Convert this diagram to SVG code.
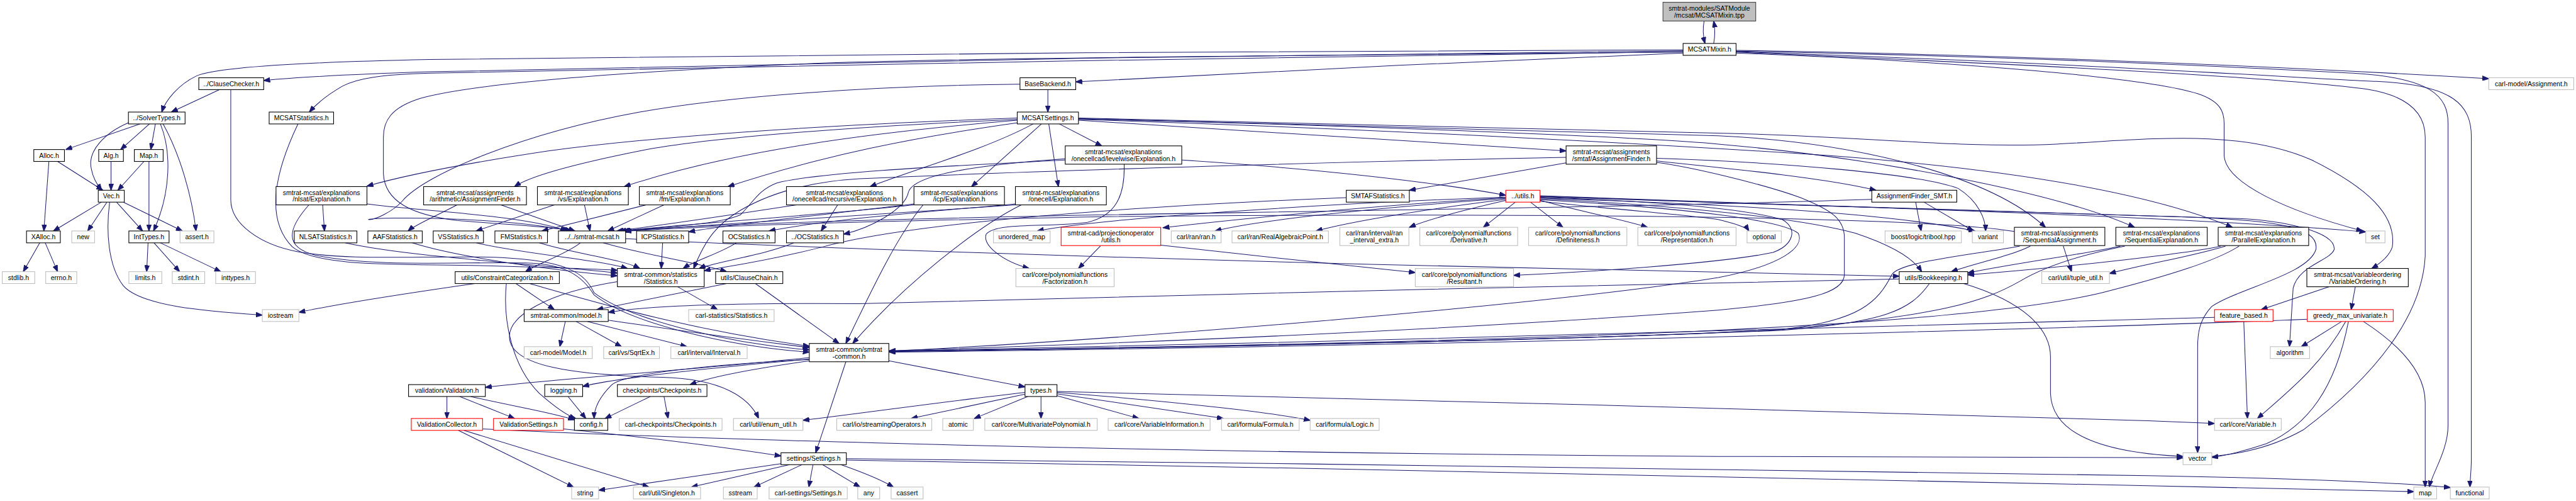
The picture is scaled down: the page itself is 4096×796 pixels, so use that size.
<svg xmlns="http://www.w3.org/2000/svg" width="4096" height="796" viewBox="0 0 4096 796">
<defs>
<style>
.node rect{fill:#fff;stroke:#000;stroke-width:1.5}
.ext rect{stroke:#bfbfbf}
.trunc rect{stroke:#ff0000}
.root rect{fill:#bfbfbf;stroke:#404040}
.node text{font-family:"Liberation Sans",Arial,Helvetica,sans-serif;font-size:14.5px;fill:#000;text-anchor:middle}
#edges path{fill:none;stroke:#191970;stroke-width:1.4;marker-end:url(#ah)}
</style>
<marker id="ah" markerUnits="userSpaceOnUse" markerWidth="15" markerHeight="11" refX="14" refY="5.5" orient="auto"><path d="M0,0 L15,5.5 L0,11 z" fill="#191970" stroke="#191970" stroke-width="1"/></marker>
</defs>
<rect x="0" y="0" width="4096" height="796" fill="#fff"/>
<g transform="scale(0.72663)">
<g id="edges">
<path d="M3729,46 C3726,62 3727,80 3731,95"/>
<path d="M3750,95 C3753,80 3753,62 3750,46"/>
<path d="M3683,111 C3000,115 1500,140 940,157 C750,163 640,170 577,176"/>
<path d="M3683,109 C3000,110 1500,120 940,130 C700,135 480,145 430,166 C390,185 362,220 354,245"/>
<path d="M3683,113 C3000,118 1600,148 940,160 C830,163 780,172 750,188 C715,208 690,230 677,245"/>
<path d="M3683,116 C3300,130 2700,160 2354,179"/>
<path d="M3683,114 C3000,120 2200,125 1800,138 C1400,155 1050,180 920,215 C855,235 839,265 839,300 L839,380 C842,440 900,470 1000,482 C1120,492 1215,496 1250,505"/>
<path d="M3799,110 C4300,118 4900,140 5446,172"/>
<path d="M3799,112 C4500,125 4950,150 5150,160 C5320,170 5357,210 5357,270 L5357,930 C5357,985 5322,1035 5316,1065"/>
<path d="M3799,113 C4600,140 5050,172 5200,178 C5370,185 5408,230 5408,300 L5408,1000 C5408,1030 5405,1048 5405,1065"/>
<path d="M3799,114 C4400,140 4950,165 5180,195 C5285,212 5307,260 5307,300 L5307,560 C5300,690 5200,820 5040,940 C4960,985 4880,998 4777,1002"/>
<path d="M3799,116 C4300,135 4700,170 4810,205 C4860,222 4867,245 4867,270 L4867,340 C4870,400 5000,460 5170,505"/>
<path d="M480,196 L375,245"/>
<path d="M505,196 L505,437 C505,490 570,535 650,550 C760,570 900,560 1050,562 C1250,565 1280,600 1300,640 C1380,700 1600,752 1771,765"/>
<path d="M652,271 C600,380 580,480 640,540 C700,588 900,575 1100,582 C1250,586 1310,588 1351,591"/>
<path d="M676,448 C630,500 620,540 690,558 C820,585 1000,572 1150,575 C1240,577 1275,605 1300,645 C1380,708 1600,758 1771,770"/>
<path d="M755,531 C850,552 1000,565 1150,578 C1260,588 1320,593 1351,597"/>
<path d="M902,531 C1000,562 1200,590 1351,603"/>
<path d="M1042,531 C1150,556 1300,566 1373,587"/>
<path d="M1180,531 C1260,556 1360,566 1400,587"/>
<path d="M1450,531 L1447,587"/>
<path d="M1611,531 C1580,552 1520,570 1495,587"/>
<path d="M1737,531 C1680,556 1560,574 1530,587"/>
<path d="M2946,432 C2500,450 2000,485 1800,540 C1660,575 1580,584 1541,592"/>
<path d="M306,271 L144,327"/>
<path d="M327,271 L264,327"/>
<path d="M340,271 L330,327"/>
<path d="M282,268 C230,290 190,330 200,370 C205,395 215,405 222,416"/>
<path d="M351,271 C375,330 375,420 336,505"/>
<path d="M357,271 C395,340 420,430 429,505"/>
<path d="M126,353 L225,416"/>
<path d="M107,353 L96,505"/>
<path d="M243,353 L243,416"/>
<path d="M315,353 L258,416"/>
<path d="M326,353 L326,505"/>
<path d="M222,442 L117,505"/>
<path d="M234,442 L192,505"/>
<path d="M255,442 L312,505"/>
<path d="M270,442 L399,505"/>
<path d="M240,442 C232,500 235,580 270,625 C310,670 450,680 574,689"/>
<path d="M87,531 L51,594"/>
<path d="M99,531 L126,594"/>
<path d="M324,531 L321,594"/>
<path d="M337,531 L393,594"/>
<path d="M351,531 L483,594"/>
<path d="M2293,196 L2293,245"/>
<path d="M2232,184 C1900,188 1600,210 1400,245 C1150,290 930,380 880,440 C860,462 820,482 806,480 C830,474 1100,474 1246,505"/>
<path d="M2226,258 C1900,270 1500,290 1200,330 C1000,360 880,385 803,407"/>
<path d="M2226,261 C1900,275 1550,300 1400,330 C1250,360 1160,385 1126,408"/>
<path d="M2226,263 C1900,290 1600,330 1366,408"/>
<path d="M2230,268 C2000,300 1800,340 1593,408"/>
<path d="M2261,271 C2150,330 2000,370 1904,408"/>
<path d="M2279,271 L2126,408"/>
<path d="M2295,271 L2316,408"/>
<path d="M2318,271 L2411,319"/>
<path d="M2360,263 L3427,330"/>
<path d="M2360,258 C3000,270 3500,285 3800,292 C4100,300 4300,325 4500,315 C4700,305 4900,280 5059,350 C5180,410 5245,470 5235,540 C5228,562 5205,578 5190,587"/>
<path d="M2360,259 C3000,272 3500,287 3760,297 C4050,310 4350,380 4476,497"/>
<path d="M2360,260 C3000,275 3600,300 3760,315 C4100,345 4500,420 4671,497"/>
<path d="M2360,261 C3100,285 3700,320 4000,340 C4400,370 4700,420 4885,497"/>
<path d="M706,448 L710,505"/>
<path d="M803,446 C900,460 1150,470 1240,505"/>
<path d="M1000,448 C960,470 910,490 893,505"/>
<path d="M1096,448 L1258,505"/>
<path d="M1213,448 L1042,505"/>
<path d="M1279,448 L1291,505"/>
<path d="M1414,448 L1186,505"/>
<path d="M1453,448 L1330,505"/>
<path d="M1833,448 L1797,505"/>
<path d="M1743,448 C1600,470 1450,492 1350,505"/>
<path d="M2000,446 C1800,470 1600,490 1507,507"/>
<path d="M2000,448 C1800,470 1500,490 1356,505"/>
<path d="M2020,448 C1960,520 1900,650 1851,751"/>
<path d="M2222,446 C2000,465 1800,482 1683,505"/>
<path d="M2222,448 C1900,470 1550,493 1361,505"/>
<path d="M2235,448 C2140,495 1980,620 1866,751"/>
<path d="M2331,347 C2150,360 2000,380 1988,420 C1980,460 1900,500 1846,512"/>
<path d="M2331,350 C2100,362 1800,375 1700,400 C1660,415 1650,440 1620,470 C1560,495 1420,497 1365,505"/>
<path d="M2586,350 C2900,370 3150,400 3295,427"/>
<path d="M2460,359 C2462,430 2440,472 2380,486 C2300,498 2180,485 2158,512 C2150,535 2190,570 2252,587"/>
<path d="M1270,531 C1240,555 1180,575 1150,594"/>
<path d="M1320,531 C1400,555 1530,575 1590,594"/>
<path d="M1369,522 C1700,540 2500,565 3000,578 C3500,590 3900,598 4156,604"/>
<path d="M3427,356 L3084,416"/>
<path d="M3625,352 C3800,370 4000,390 4105,416"/>
<path d="M3625,346 C3900,355 4200,380 4285,412 C4330,440 4345,480 4345,505"/>
<path d="M3625,355 C3700,365 3850,400 3940,432 C4010,460 4036,480 4036,520 L4036,600 C4036,640 3960,660 3760,678 C3400,705 2800,740 1946,767"/>
<path d="M3427,344 C3000,352 2300,372 1880,391 C1760,398 1680,425 1620,460 C1570,490 1545,520 1518,587"/>
<path d="M3295,432 C3000,450 2700,480 2545,498"/>
<path d="M3295,434 C3000,455 2750,482 2659,505"/>
<path d="M3295,436 C3100,460 2950,486 2880,505"/>
<path d="M3296,438 C3200,460 3120,482 3084,497"/>
<path d="M3316,442 L3246,497"/>
<path d="M3349,442 L3420,497"/>
<path d="M3370,438 C3450,460 3550,480 3605,497"/>
<path d="M3370,440 C3550,460 3700,470 3760,480 C3800,490 3822,497 3827,505"/>
<path d="M3295,431 C2900,445 2400,478 2270,505"/>
<path d="M3370,431 C3600,440 3800,452 3900,480 C3935,500 3925,535 3880,552 C3760,577 3450,596 3312,602"/>
<path d="M3370,428 C3800,445 4400,462 4700,472 C4980,478 5075,495 5068,545 C5052,600 4900,630 4840,670 C4812,700 4809,730 4809,760 L4809,990"/>
<path d="M3370,429 C3900,450 4500,465 4900,478 C4990,482 5110,505 5108,545 C5100,570 5030,580 5018,630 L5010,758"/>
<path d="M3370,430 C3900,448 4700,468 5177,507"/>
<path d="M3370,433 C3700,445 4100,460 4322,505"/>
<path d="M3370,435 C3700,450 3950,480 4060,510 C4150,540 4190,570 4205,594"/>
<path d="M3370,437 C3700,455 3900,482 3935,510 C3950,540 3900,580 3760,607 C3400,665 2500,740 1946,768"/>
<path d="M4192,442 L4204,505"/>
<path d="M4210,442 L4318,505"/>
<path d="M4096,436 C3600,452 3000,460 2400,470 C1900,480 1500,493 1366,505"/>
<path d="M4408,506 C4200,472 3300,465 2400,474 C1900,484 1500,496 1368,506"/>
<path d="M4515,538 L4533,594"/>
<path d="M4443,538 C4400,560 4320,576 4270,594"/>
<path d="M4420,538 C4300,560 4160,572 4140,600 C4110,660 4070,702 3900,720 C3500,745 2400,762 1946,768"/>
<path d="M4640,538 C4560,556 4400,577 4306,597"/>
<path d="M4650,538 C4540,560 4470,585 4420,615 C4340,660 4250,690 3900,720 C3500,745 2400,762 1946,769"/>
<path d="M4870,538 C4800,560 4700,576 4616,598"/>
<path d="M4860,538 C4780,556 4500,586 4306,601"/>
<path d="M4900,538 C4850,570 4750,602 4600,640 C4300,712 3500,746 1946,768"/>
<path d="M5097,627 L4948,677"/>
<path d="M5154,627 L5145,677"/>
<path d="M4910,703 L4918,915"/>
<path d="M4846,694 C4500,706 3000,746 1946,768"/>
<path d="M5049,698 C4600,716 3200,756 1946,770"/>
<path d="M5124,703 L5036,758"/>
<path d="M5133,703 C5080,800 5000,862 4940,915"/>
<path d="M5139,703 C5110,850 5050,930 4960,970 C4900,990 4870,996 4840,1000"/>
<path d="M5172,703 C5260,760 5307,820 5307,880 L5307,1065"/>
<path d="M1771,782 C1500,810 1200,830 1062,847"/>
<path d="M1771,785 C1550,805 1350,826 1275,845"/>
<path d="M1771,789 C1650,806 1560,822 1510,841"/>
<path d="M1771,786 C1500,800 1360,822 1338,842 C1310,870 1300,895 1300,915"/>
<path d="M1851,791 L1785,990"/>
<path d="M1945,789 L2243,846"/>
<path d="M1331,700 C1500,725 1650,745 1771,760"/>
<path d="M1237,703 L1225,758"/>
<path d="M1261,703 L1360,758"/>
<path d="M1285,703 L1503,758"/>
<path d="M1129,620 L1213,677"/>
<path d="M1159,620 C1300,660 1500,720 1771,757"/>
<path d="M1039,620 C900,640 750,662 654,683"/>
<path d="M1108,620 C1100,700 1120,800 1180,860 C1220,895 1245,910 1260,915"/>
<path d="M1590,620 L1306,677"/>
<path d="M1653,620 L1836,751"/>
<path d="M1483,627 L1570,677"/>
<path d="M1351,616 C1200,640 1110,690 1115,740 C1120,800 1250,820 1450,825 C1580,828 1640,870 1660,915"/>
<path d="M978,867 L978,915"/>
<path d="M1006,867 L1126,915"/>
<path d="M1030,867 C1120,888 1200,900 1257,918"/>
<path d="M1243,867 L1282,915"/>
<path d="M1423,867 L1324,915"/>
<path d="M1453,867 L1462,915"/>
<path d="M1003,941 L1255,1065"/>
<path d="M1015,941 L1420,1065"/>
<path d="M1056,938 C1500,960 2500,990 3760,998 L4777,1001"/>
<path d="M1233,938 C1450,960 1600,980 1709,997"/>
<path d="M1709,1014 L1310,1072"/>
<path d="M1728,1016 L1513,1065"/>
<path d="M1755,1016 L1650,1065"/>
<path d="M1779,1016 L1770,1065"/>
<path d="M1800,1016 L1882,1065"/>
<path d="M1840,1016 C1880,1030 1930,1050 1955,1065"/>
<path d="M1852,1003 C2800,1012 4000,1030 4700,1040 C5000,1045 5250,1055 5362,1066"/>
<path d="M1852,1006 C2800,1020 4000,1050 4700,1062 C5000,1068 5200,1073 5282,1075"/>
<path d="M2243,862 L1994,915"/>
<path d="M2243,858 C2050,880 1900,902 1757,919"/>
<path d="M2249,867 L2132,915"/>
<path d="M2278,867 L2278,915"/>
<path d="M2312,865 L2492,915"/>
<path d="M2313,861 L2677,915"/>
<path d="M2313,858 C2600,880 2800,905 2867,919"/>
<path d="M2313,856 C3000,870 4000,900 4700,920 L4846,926"/>
<path d="M2408,538 L2360,587"/>
<path d="M2540,536 C2700,555 2950,580 3097,596"/>
<path d="M4297,620 C4430,660 4487,720 4487,780 L4487,860 C4490,950 4600,990 4777,998"/>
<path d="M4156,610 C3500,620 2500,650 1880,664 C1600,662 1420,668 1331,683"/>
<path d="M4222,620 C4180,680 4120,705 3900,722 C3400,745 2500,762 1946,768"/>
</g>
<g id="n1" class="node root"><rect x="3639" y="5" width="203" height="41"/><text x="3740.5" y="23">smtrat-modules/SATModule<tspan x="3740.5" dy="15">/mcsat/MCSATMixin.tpp</tspan></text></g>
<g id="n2" class="node"><rect x="3683" y="95" width="116" height="26"/><text x="3741" y="113">MCSATMixin.h</text></g>
<g id="n3" class="node"><rect x="435" y="170" width="142" height="26"/><text x="506" y="188">../ClauseChecker.h</text></g>
<g id="n4" class="node"><rect x="281" y="245" width="124" height="26"/><text x="343" y="263">../SolverTypes.h</text></g>
<g id="n5" class="node"><rect x="74" y="327" width="67" height="26"/><text x="107.5" y="345">Alloc.h</text></g>
<g id="n6" class="node"><rect x="216" y="327" width="54" height="26"/><text x="243" y="345">Alg.h</text></g>
<g id="n7" class="node"><rect x="294" y="327" width="63" height="26"/><text x="325.5" y="345">Map.h</text></g>
<g id="n8" class="node"><rect x="215" y="416" width="57" height="26"/><text x="243.5" y="434">Vec.h</text></g>
<g id="n9" class="node"><rect x="58" y="505" width="74" height="26"/><text x="95" y="523">XAlloc.h</text></g>
<g id="n10" class="node ext"><rect x="157" y="505" width="50" height="26"/><text x="182" y="523">new</text></g>
<g id="n11" class="node"><rect x="282" y="505" width="88" height="26"/><text x="326" y="523">IntTypes.h</text></g>
<g id="n12" class="node ext"><rect x="394" y="505" width="74" height="26"/><text x="431" y="523">assert.h</text></g>
<g id="n13" class="node ext"><rect x="5" y="594" width="71" height="26"/><text x="40.5" y="612">stdlib.h</text></g>
<g id="n14" class="node ext"><rect x="100" y="594" width="68" height="26"/><text x="134" y="612">errno.h</text></g>
<g id="n15" class="node ext"><rect x="282" y="594" width="72" height="26"/><text x="318" y="612">limits.h</text></g>
<g id="n16" class="node ext"><rect x="377" y="594" width="71" height="26"/><text x="412.5" y="612">stdint.h</text></g>
<g id="n17" class="node ext"><rect x="472" y="594" width="87" height="26"/><text x="515.5" y="612">inttypes.h</text></g>
<g id="n18" class="node ext"><rect x="574" y="677" width="80" height="26"/><text x="614" y="695">iostream</text></g>
<g id="n19" class="node"><rect x="589" y="245" width="141" height="26"/><text x="659.5" y="263">MCSATStatistics.h</text></g>
<g id="n20" class="node"><rect x="1351" y="587" width="190" height="40"/><text x="1446" y="605">smtrat-common/statistics<tspan x="1446" dy="15">/Statistics.h</tspan></text></g>
<g id="n21" class="node"><rect x="2232" y="170" width="122" height="26"/><text x="2293" y="188">BaseBackend.h</text></g>
<g id="n22" class="node"><rect x="2226" y="245" width="134" height="26"/><text x="2293" y="263">MCSATSettings.h</text></g>
<g id="n23" class="node"><rect x="604" y="408" width="199" height="40"/><text x="703.5" y="426">smtrat-mcsat/explanations<tspan x="703.5" dy="15">/nlsat/Explanation.h</tspan></text></g>
<g id="n24" class="node"><rect x="644" y="505" width="137" height="26"/><text x="712.5" y="523">NLSATStatistics.h</text></g>
<g id="n25" class="node"><rect x="927" y="408" width="225" height="40"/><text x="1039.5" y="426">smtrat-mcsat/assignments<tspan x="1039.5" dy="15">/arithmetic/AssignmentFinder.h</tspan></text></g>
<g id="n26" class="node"><rect x="805" y="505" width="119" height="26"/><text x="864.5" y="523">AAFStatistics.h</text></g>
<g id="n27" class="node"><rect x="1176" y="408" width="199" height="40"/><text x="1275.5" y="426">smtrat-mcsat/explanations<tspan x="1275.5" dy="15">/vs/Explanation.h</tspan></text></g>
<g id="n28" class="node"><rect x="948" y="505" width="110" height="26"/><text x="1003" y="523">VSStatistics.h</text></g>
<g id="n29" class="node"><rect x="1399" y="408" width="199" height="40"/><text x="1498.5" y="426">smtrat-mcsat/explanations<tspan x="1498.5" dy="15">/fm/Explanation.h</tspan></text></g>
<g id="n30" class="node"><rect x="1083" y="505" width="115" height="26"/><text x="1140.5" y="523">FMStatistics.h</text></g>
<g id="n31" class="node"><rect x="1721" y="408" width="254" height="40"/><text x="1848" y="426">smtrat-mcsat/explanations<tspan x="1848" dy="15">/onecellcad/recursive/Explanation.h</tspan></text></g>
<g id="n32" class="node"><rect x="1721" y="505" width="125" height="26"/><text x="1783.5" y="523">../OCStatistics.h</text></g>
<g id="n33" class="node"><rect x="2000" y="408" width="198" height="40"/><text x="2099" y="426">smtrat-mcsat/explanations<tspan x="2099" dy="15">/icp/Explanation.h</tspan></text></g>
<g id="n34" class="node"><rect x="1393" y="505" width="114" height="26"/><text x="1450" y="523">ICPStatistics.h</text></g>
<g id="n35" class="node"><rect x="2222" y="408" width="199" height="40"/><text x="2321.5" y="426">smtrat-mcsat/explanations<tspan x="2321.5" dy="15">/onecell/Explanation.h</tspan></text></g>
<g id="n36" class="node"><rect x="1582" y="505" width="114" height="26"/><text x="1639" y="523">OCStatistics.h</text></g>
<g id="n37" class="node"><rect x="2331" y="319" width="255" height="40"/><text x="2458.5" y="337">smtrat-mcsat/explanations<tspan x="2458.5" dy="15">/onecellcad/levelwise/Explanation.h</tspan></text></g>
<g id="n38" class="node"><rect x="1222" y="505" width="147" height="26"/><text x="1295.5" y="523">../../smtrat-mcsat.h</text></g>
<g id="n39" class="node"><rect x="3427" y="319" width="198" height="40"/><text x="3526" y="337">smtrat-mcsat/assignments<tspan x="3526" dy="15">/smtaf/AssignmentFinder.h</tspan></text></g>
<g id="n40" class="node"><rect x="2946" y="416" width="138" height="26"/><text x="3015" y="434">SMTAFStatistics.h</text></g>
<g id="n41" class="node trunc"><rect x="3295" y="416" width="75" height="26"/><text x="3332.5" y="434">../utils.h</text></g>
<g id="n42" class="node"><rect x="4096" y="416" width="186" height="26"/><text x="4189" y="434">AssignmentFinder_SMT.h</text></g>
<g id="n43" class="node"><rect x="4408" y="497" width="198" height="40"/><text x="4507" y="515">smtrat-mcsat/assignments<tspan x="4507" dy="15">/SequentialAssignment.h</tspan></text></g>
<g id="n44" class="node"><rect x="4630" y="497" width="200" height="40"/><text x="4730" y="515">smtrat-mcsat/explanations<tspan x="4730" dy="15">/SequentialExplanation.h</tspan></text></g>
<g id="n45" class="node"><rect x="4854" y="497" width="198" height="40"/><text x="4953" y="515">smtrat-mcsat/explanations<tspan x="4953" dy="15">/ParallelExplanation.h</tspan></text></g>
<g id="n46" class="node"><rect x="5048" y="587" width="222" height="40"/><text x="5159" y="605">smtrat-mcsat/variableordering<tspan x="5159" dy="15">/VariableOrdering.h</tspan></text></g>
<g id="n47" class="node trunc"><rect x="4846" y="677" width="128" height="26"/><text x="4910" y="695">feature_based.h</text></g>
<g id="n48" class="node trunc"><rect x="5049" y="677" width="188" height="26"/><text x="5143" y="695">greedy_max_univariate.h</text></g>
<g id="n49" class="node ext"><rect x="5446" y="170" width="186" height="26"/><text x="5539" y="188">carl-model/Assignment.h</text></g>
<g id="n50" class="node"><rect x="1771" y="751" width="174" height="40"/><text x="1858" y="769">smtrat-common/smtrat<tspan x="1858" dy="15">-common.h</tspan></text></g>
<g id="n51" class="node"><rect x="996" y="594" width="228" height="26"/><text x="1110" y="612">utils/ConstraintCategorization.h</text></g>
<g id="n52" class="node"><rect x="1566" y="594" width="147" height="26"/><text x="1639.5" y="612">utils/ClauseChain.h</text></g>
<g id="n53" class="node"><rect x="1147" y="677" width="184" height="26"/><text x="1239" y="695">smtrat-common/model.h</text></g>
<g id="n54" class="node ext"><rect x="1507" y="677" width="187" height="26"/><text x="1600.5" y="695">carl-statistics/Statistics.h</text></g>
<g id="n55" class="node ext"><rect x="1147" y="758" width="149" height="26"/><text x="1221.5" y="776">carl-model/Model.h</text></g>
<g id="n56" class="node ext"><rect x="1321" y="758" width="122" height="26"/><text x="1382" y="776">carl/vs/SqrtEx.h</text></g>
<g id="n57" class="node ext"><rect x="1468" y="758" width="167" height="26"/><text x="1551.5" y="776">carl/interval/Interval.h</text></g>
<g id="n58" class="node"><rect x="894" y="841" width="168" height="26"/><text x="978" y="859">validation/Validation.h</text></g>
<g id="n59" class="node"><rect x="1192" y="841" width="83" height="26"/><text x="1233.5" y="859">logging.h</text></g>
<g id="n60" class="node"><rect x="1351" y="841" width="196" height="26"/><text x="1449" y="859">checkpoints/Checkpoints.h</text></g>
<g id="n61" class="node trunc"><rect x="900" y="915" width="156" height="26"/><text x="978" y="933">ValidationCollector.h</text></g>
<g id="n62" class="node trunc"><rect x="1080" y="915" width="153" height="26"/><text x="1156.5" y="933">ValidationSettings.h</text></g>
<g id="n63" class="node"><rect x="1257" y="915" width="73" height="26"/><text x="1293.5" y="933">config.h</text></g>
<g id="n64" class="node ext"><rect x="1355" y="915" width="225" height="26"/><text x="1467.5" y="933">carl-checkpoints/Checkpoints.h</text></g>
<g id="n65" class="node ext"><rect x="1605" y="915" width="152" height="26"/><text x="1681" y="933">carl/util/enum_util.h</text></g>
<g id="n66" class="node ext"><rect x="1831" y="915" width="208" height="26"/><text x="1935" y="933">carl/io/streamingOperators.h</text></g>
<g id="n67" class="node"><rect x="1709" y="990" width="143" height="26"/><text x="1780.5" y="1008">settings/Settings.h</text></g>
<g id="n68" class="node ext"><rect x="1251" y="1065" width="59" height="26"/><text x="1280.5" y="1083">string</text></g>
<g id="n69" class="node ext"><rect x="1386" y="1065" width="147" height="26"/><text x="1459.5" y="1083">carl/util/Singleton.h</text></g>
<g id="n70" class="node ext"><rect x="1583" y="1065" width="74" height="26"/><text x="1620" y="1083">sstream</text></g>
<g id="n71" class="node ext"><rect x="1683" y="1065" width="171" height="26"/><text x="1768.5" y="1083">carl-settings/Settings.h</text></g>
<g id="n72" class="node ext"><rect x="1877" y="1065" width="48" height="26"/><text x="1901" y="1083">any</text></g>
<g id="n73" class="node ext"><rect x="1950" y="1065" width="70" height="26"/><text x="1985" y="1083">cassert</text></g>
<g id="n74" class="node"><rect x="2243" y="841" width="70" height="26"/><text x="2278" y="859">types.h</text></g>
<g id="n75" class="node ext"><rect x="2063" y="915" width="67" height="26"/><text x="2096.5" y="933">atomic</text></g>
<g id="n76" class="node ext"><rect x="2155" y="915" width="246" height="26"/><text x="2278" y="933">carl/core/MultivariatePolynomial.h</text></g>
<g id="n77" class="node ext"><rect x="2425" y="915" width="223" height="26"/><text x="2536.5" y="933">carl/core/VariableInformation.h</text></g>
<g id="n78" class="node ext"><rect x="2673" y="915" width="170" height="26"/><text x="2758" y="933">carl/formula/Formula.h</text></g>
<g id="n79" class="node ext"><rect x="2867" y="915" width="151" height="26"/><text x="2942.5" y="933">carl/formula/Logic.h</text></g>
<g id="n80" class="node ext"><rect x="4846" y="915" width="146" height="26"/><text x="4919" y="933">carl/core/Variable.h</text></g>
<g id="n81" class="node ext"><rect x="4777" y="990" width="63" height="26"/><text x="4808.5" y="1008">vector</text></g>
<g id="n82" class="node ext"><rect x="5282" y="1065" width="50" height="26"/><text x="5307" y="1083">map</text></g>
<g id="n83" class="node ext"><rect x="5362" y="1065" width="85" height="26"/><text x="5404.5" y="1083">functional</text></g>
<g id="n84" class="node ext"><rect x="5177" y="505" width="42" height="26"/><text x="5198" y="523">set</text></g>
<g id="n85" class="node ext"><rect x="4968" y="758" width="86" height="26"/><text x="5011" y="776">algorithm</text></g>
<g id="n86" class="node"><rect x="4156" y="594" width="150" height="26"/><text x="4231" y="612">utils/Bookkeeping.h</text></g>
<g id="n87" class="node ext"><rect x="4468" y="594" width="148" height="26"/><text x="4542" y="612">carl/util/tuple_util.h</text></g>
<g id="n88" class="node ext"><rect x="2174" y="505" width="124" height="26"/><text x="2236" y="523">unordered_map</text></g>
<g id="n89" class="node trunc"><rect x="2322" y="497" width="218" height="40"/><text x="2431" y="515">smtrat-cad/projectionoperator<tspan x="2431" dy="15">/utils.h</tspan></text></g>
<g id="n90" class="node ext"><rect x="2563" y="505" width="109" height="26"/><text x="2617.5" y="523">carl/ran/ran.h</text></g>
<g id="n91" class="node ext"><rect x="2696" y="505" width="211" height="26"/><text x="2801.5" y="523">carl/ran/RealAlgebraicPoint.h</text></g>
<g id="n92" class="node ext"><rect x="2932" y="497" width="151" height="40"/><text x="3007.5" y="515">carl/ran/interval/ran<tspan x="3007.5" dy="15">_interval_extra.h</tspan></text></g>
<g id="n93" class="node ext"><rect x="3107" y="497" width="214" height="40"/><text x="3214" y="515">carl/core/polynomialfunctions<tspan x="3214" dy="15">/Derivative.h</tspan></text></g>
<g id="n94" class="node ext"><rect x="3345" y="497" width="215" height="40"/><text x="3452.5" y="515">carl/core/polynomialfunctions<tspan x="3452.5" dy="15">/Definiteness.h</tspan></text></g>
<g id="n95" class="node ext"><rect x="3584" y="497" width="215" height="40"/><text x="3691.5" y="515">carl/core/polynomialfunctions<tspan x="3691.5" dy="15">/Representation.h</tspan></text></g>
<g id="n96" class="node ext"><rect x="3823" y="505" width="75" height="26"/><text x="3860.5" y="523">optional</text></g>
<g id="n97" class="node ext"><rect x="4125" y="505" width="167" height="26"/><text x="4208.5" y="523">boost/logic/tribool.hpp</text></g>
<g id="n98" class="node ext"><rect x="4316" y="505" width="68" height="26"/><text x="4350" y="523">variant</text></g>
<g id="n99" class="node ext"><rect x="2223" y="587" width="215" height="40"/><text x="2330.5" y="605">carl/core/polynomialfunctions<tspan x="2330.5" dy="15">/Factorization.h</tspan></text></g>
<g id="n100" class="node ext"><rect x="3097" y="587" width="215" height="40"/><text x="3204.5" y="605">carl/core/polynomialfunctions<tspan x="3204.5" dy="15">/Resultant.h</tspan></text></g>
</g>
</svg>
